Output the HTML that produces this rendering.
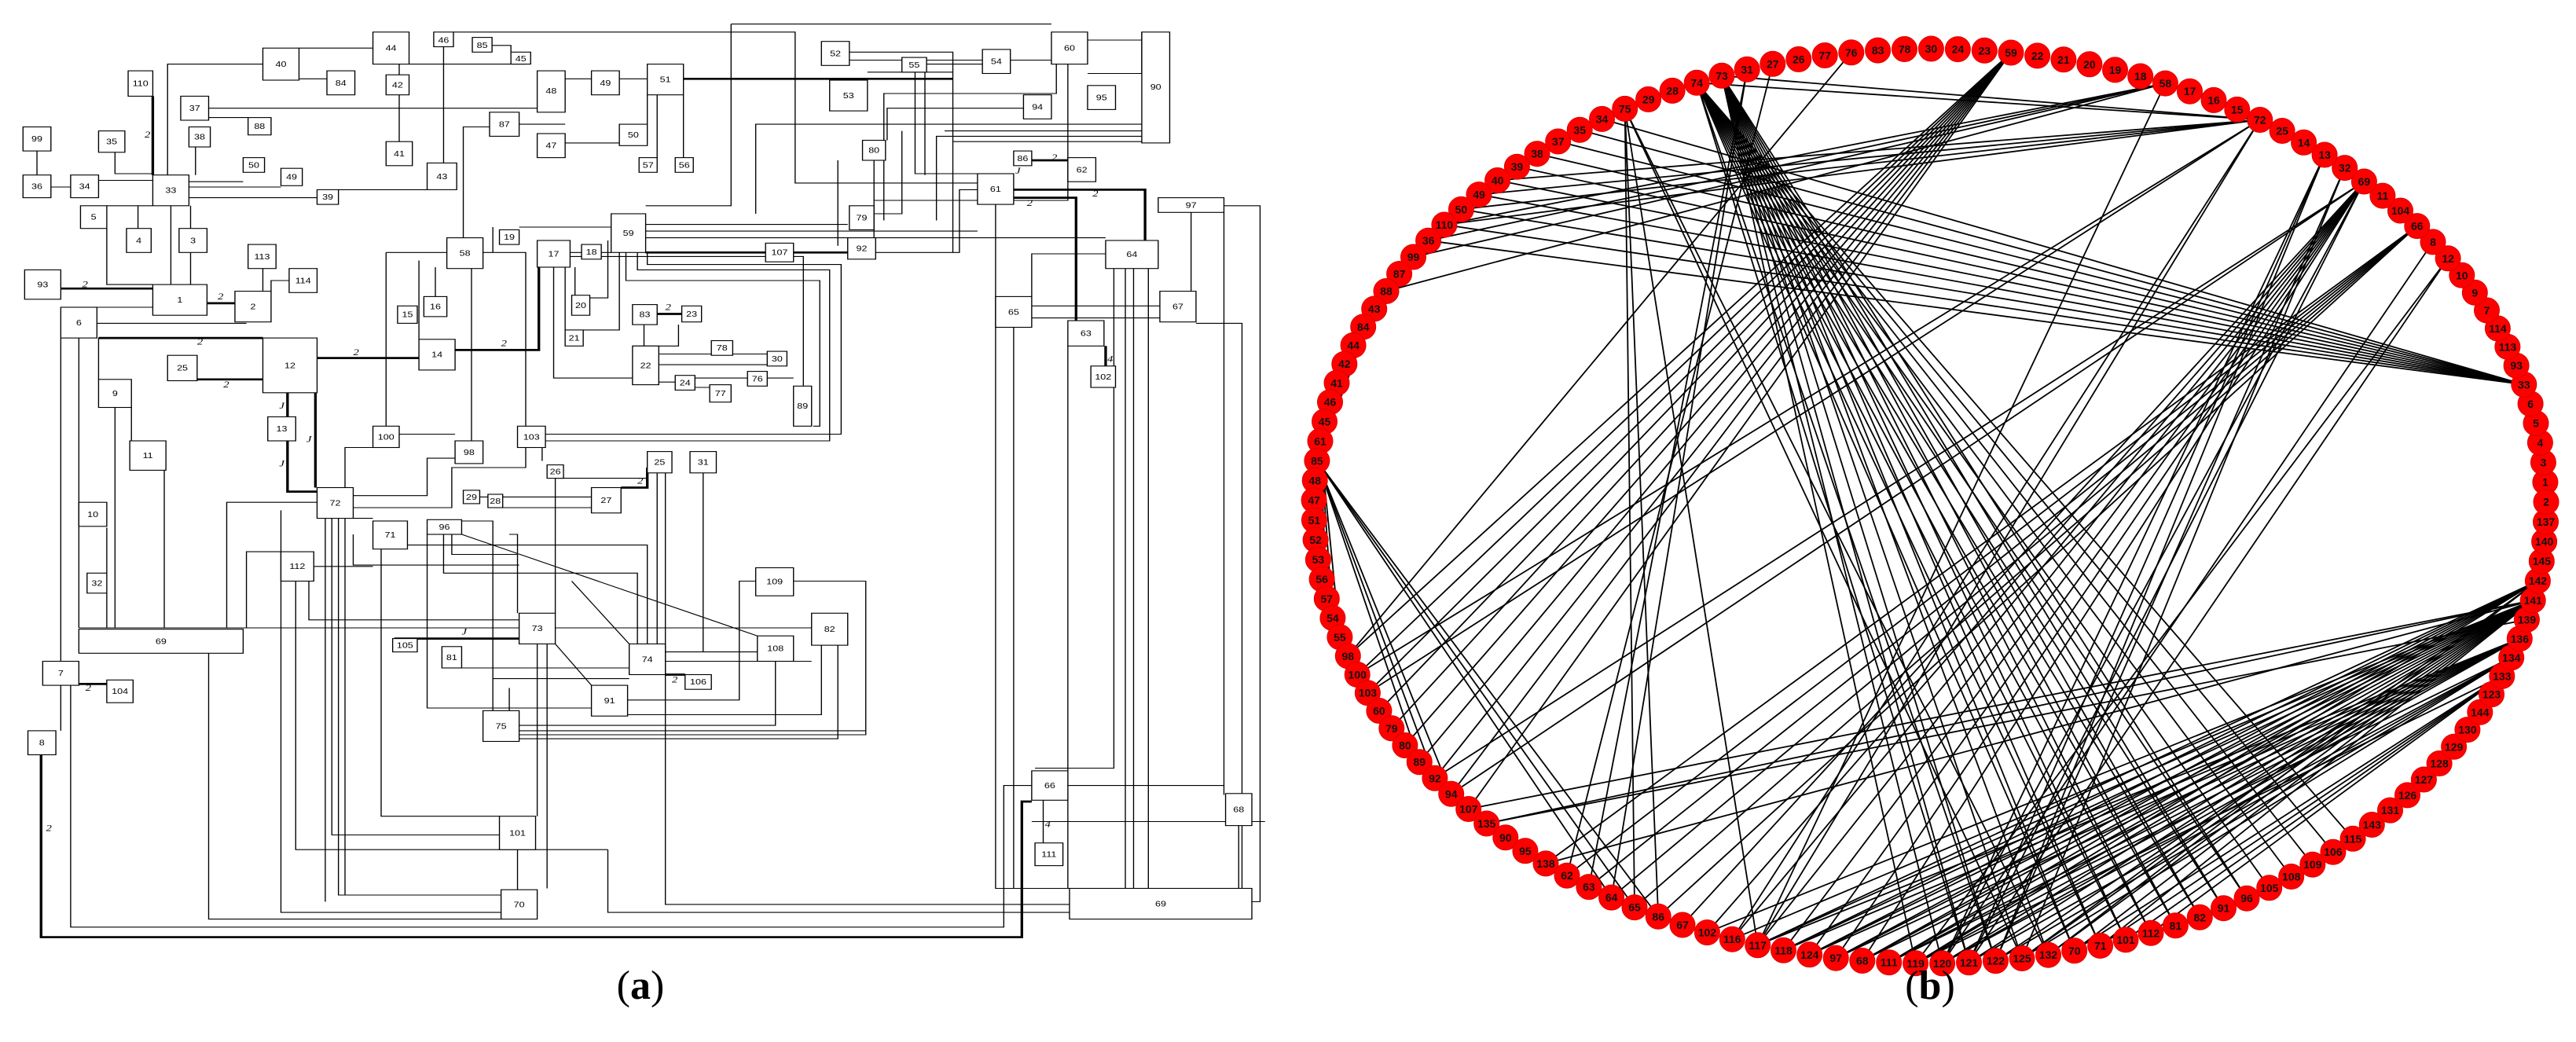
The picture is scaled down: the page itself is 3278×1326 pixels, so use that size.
<!DOCTYPE html>
<html><head><meta charset="utf-8"><style>
html,body{margin:0;padding:0;background:#fff;}
#wrap{position:relative;width:3278px;height:1326px;overflow:hidden;background:#fff;}
svg{position:absolute;top:0;}
.b rect{fill:#fff;stroke:#000;stroke-width:1.3;}
.b text{font-family:"Liberation Sans",sans-serif;font-size:12px;text-anchor:middle;fill:#000;}
.l path{fill:none;stroke:#000;stroke-width:1.3;}
.k path{fill:none;stroke:#000;stroke-width:3.2;}
.lab{font-family:"Liberation Serif",serif;font-style:italic;font-size:14px;fill:#000;}
.n circle{fill:#f00;stroke:#d00;stroke-width:1;}
.n text{font-family:"Liberation Sans",sans-serif;font-size:14px;text-anchor:middle;fill:#111;font-weight:bold;}
</style></head><body><div id="wrap">
<svg width="1639" height="1326" viewBox="0 0 1568 1560" preserveAspectRatio="none" style="left:0">
<g class="l">
<path d="M364,72H454M320,96H204V262M364,118H398M486,96V112M486,142V212M498,96H640M552,48H968V274H1190M599,68H622V78M540,70V244M688,118H720M754,118H788M832,142V236M800,142V236M788,142V186M688,214H754M632,186H688M596,190H564V356M254,162H654M254,176H302M238,220V262M140,228V260H186M230,272H296M230,280H342M230,296H386M412,284H520M208,308V426M232,308V342M232,378V426M45,226V262M62,280H86M120,270H186M130,342V426H186M130,308H186M168,342V308M320,402V436M352,420H330V436M74,460H186M118,484H300M96,506V940M74,506V990M120,506V568M140,610V940M160,610V660M200,704V940M130,790V858M130,888V940M96,940H990M254,978V1376H610M74,1026V1094M86,1026V1388H1222V1176H1256M470,378H544M470,378V638M510,390V508M530,400V444M574,402V660M588,378H640V638M744,340H632M600,340V378H588M786,336H1032M786,346H1190M786,356H1346M694,378H708M732,378H744M674,400V566H770M688,400V494M700,400V442M718,446H740V360M710,494H754V378M762,378V420H998V638H990M776,378V404H1010V660H660V690M788,378V396H1024V650H640M784,486V518M826,486V518H770M802,530H934M802,546H934M802,572H822M846,566H910M846,580H864M934,566H966M664,384H978V578M454,646H486M486,650H554M470,670H420V730M554,686H520V742H430M640,670V700H550V760H430M396,776V1350M404,776V1250H610M412,776V1340H610M420,776V1340M386,752H276V940M430,776H454M496,816H788V964M342,764V1366H610M342,826H300V940M382,848H454M562,800L922,952M540,800V858H776V964M520,800V1060H720M550,800V830H630V918M632,940H508M676,964L720,1026M696,870L766,964M654,964V1222M666,964V1330M676,918V716H788M800,708V964M856,708V976H810M584,744H720M612,760H720M810,976H922M810,990H988M966,870H1054V1100H632M944,990V1086H632M1020,966V1106H632M764,1048H900V870H920M764,1070H1000V966M632,1094H1054M464,800V1222H608M630,1272V1332M740,1272V1366H1302M810,700V1354H1302M360,870V1272H740M376,870V928H632M430,800V846H632M560,780H600V1064M620,800H630V918M600,1016H766M620,1030V1064M540,1000H766M1212,306V1330H1302M1356,402V1150H1260M1370,402V1330M1380,402V1330M1398,402V1330M1410,380H1256V444M1490,308H1534V1350H1524M1450,318V436M1490,318V1190M1456,484H1512V1330M1412,476H1256M1412,458H1256M1300,518V1330M1270,1198V1262M1300,1176H1490M1508,1236V1330M1234,490V1330M1324,60H1390M1390,186H920V320M1390,196H1150M1390,204H1140V330M1390,212H1160V378M1196,96H1098M1114,108V260H1190M1126,108V262M1034,78H1160V260M1056,108H1160M1246,162H1080V210M1064,240V360M1020,240V368M1300,96V300H1064M1286,96V140H1076V330M1066,378H1168V284H1190M1064,320H1098V196M890,36V308H786M890,36H1280M1256,1230H1540M1244,1212V1330M1224,1176H1256M1034,90H1280M1324,110H1390V48"/>
</g>
<g class="k">
<path d="M50,1130V1403H1244V1200H1256M74,432H186M252,454H286M120,506H320M240,568H320M386,536H510M554,524H656V380M350,588V624M350,660V736H386M384,588V730M832,118H1160M1234,284H1394V360M1234,296H1310V480M786,378H932M966,378H1032M800,470H830M480,956H632M788,700V730H756M810,1010H834M96,1024H130M1256,240H1300M1346,518V548M186,144V262"/>
</g>
<g class="b">
<rect x="320" y="72" width="44" height="48"/><text x="342" y="100">40</text>
<rect x="454" y="48" width="44" height="48"/><text x="476" y="76">44</text>
<rect x="528" y="48" width="24" height="22"/><text x="540" y="64">46</text>
<rect x="575" y="56" width="24" height="22"/><text x="587" y="72">85</text>
<rect x="622" y="78" width="24" height="18"/><text x="634" y="92">45</text>
<rect x="156" y="106" width="30" height="38"/><text x="171" y="129">110</text>
<rect x="398" y="106" width="34" height="36"/><text x="415" y="128">84</text>
<rect x="470" y="112" width="28" height="30"/><text x="484" y="131">42</text>
<rect x="654" y="106" width="34" height="62"/><text x="671" y="140">48</text>
<rect x="720" y="106" width="34" height="36"/><text x="737" y="128">49</text>
<rect x="788" y="96" width="44" height="46"/><text x="810" y="123">51</text>
<rect x="1000" y="62" width="34" height="36"/><text x="1017" y="84">52</text>
<rect x="1098" y="86" width="30" height="22"/><text x="1113" y="101">55</text>
<rect x="1196" y="74" width="34" height="36"/><text x="1213" y="96">54</text>
<rect x="1280" y="48" width="44" height="48"/><text x="1302" y="76">60</text>
<rect x="1390" y="48" width="34" height="166"/><text x="1407" y="134">90</text>
<rect x="1010" y="120" width="46" height="46"/><text x="1033" y="147">53</text>
<rect x="1324" y="128" width="34" height="36"/><text x="1341" y="150">95</text>
<rect x="220" y="144" width="34" height="36"/><text x="237" y="166">37</text>
<rect x="302" y="176" width="28" height="26"/><text x="316" y="193">88</text>
<rect x="596" y="168" width="36" height="36"/><text x="614" y="190">87</text>
<rect x="1246" y="142" width="34" height="36"/><text x="1263" y="164">94</text>
<rect x="28" y="190" width="34" height="36"/><text x="45" y="212">99</text>
<rect x="120" y="196" width="32" height="32"/><text x="136" y="216">35</text>
<rect x="230" y="190" width="26" height="30"/><text x="243" y="209">38</text>
<rect x="654" y="200" width="34" height="36"/><text x="671" y="222">47</text>
<rect x="754" y="186" width="34" height="32"/><text x="771" y="206">50</text>
<rect x="470" y="212" width="32" height="36"/><text x="486" y="234">41</text>
<rect x="1050" y="210" width="28" height="30"/><text x="1064" y="229">80</text>
<rect x="1234" y="226" width="22" height="22"/><text x="1245" y="241">86</text>
<rect x="1300" y="236" width="34" height="36"/><text x="1317" y="258">62</text>
<rect x="28" y="262" width="34" height="34"/><text x="45" y="283">36</text>
<rect x="86" y="262" width="34" height="34"/><text x="103" y="283">34</text>
<rect x="186" y="262" width="44" height="46"/><text x="208" y="289">33</text>
<rect x="296" y="236" width="26" height="22"/><text x="309" y="251">50</text>
<rect x="342" y="252" width="26" height="26"/><text x="355" y="269">49</text>
<rect x="520" y="244" width="36" height="40"/><text x="538" y="268">43</text>
<rect x="778" y="236" width="22" height="22"/><text x="789" y="251">57</text>
<rect x="822" y="236" width="22" height="22"/><text x="833" y="251">56</text>
<rect x="386" y="284" width="26" height="22"/><text x="399" y="299">39</text>
<rect x="1190" y="260" width="44" height="46"/><text x="1212" y="287">61</text>
<rect x="98" y="308" width="32" height="34"/><text x="114" y="329">5</text>
<rect x="1410" y="296" width="80" height="22"/><text x="1450" y="311">97</text>
<rect x="1034" y="308" width="30" height="36"/><text x="1049" y="330">79</text>
<rect x="744" y="320" width="42" height="58"/><text x="765" y="353">59</text>
<rect x="608" y="344" width="24" height="22"/><text x="620" y="359">19</text>
<rect x="154" y="342" width="30" height="36"/><text x="169" y="364">4</text>
<rect x="218" y="342" width="34" height="36"/><text x="235" y="364">3</text>
<rect x="544" y="356" width="44" height="46"/><text x="566" y="383">58</text>
<rect x="654" y="360" width="40" height="40"/><text x="674" y="384">17</text>
<rect x="708" y="366" width="24" height="22"/><text x="720" y="381">18</text>
<rect x="932" y="364" width="34" height="28"/><text x="949" y="382">107</text>
<rect x="1032" y="356" width="34" height="32"/><text x="1049" y="376">92</text>
<rect x="1346" y="360" width="64" height="42"/><text x="1378" y="385">64</text>
<rect x="302" y="366" width="34" height="36"/><text x="319" y="388">113</text>
<rect x="30" y="404" width="44" height="44"/><text x="52" y="430">93</text>
<rect x="352" y="402" width="34" height="36"/><text x="369" y="424">114</text>
<rect x="186" y="426" width="66" height="46"/><text x="219" y="453">1</text>
<rect x="286" y="436" width="44" height="46"/><text x="308" y="463">2</text>
<rect x="484" y="458" width="24" height="26"/><text x="496" y="475">15</text>
<rect x="516" y="444" width="28" height="30"/><text x="530" y="463">16</text>
<rect x="696" y="442" width="22" height="30"/><text x="707" y="461">20</text>
<rect x="770" y="456" width="30" height="30"/><text x="785" y="475">83</text>
<rect x="830" y="458" width="24" height="24"/><text x="842" y="474">23</text>
<rect x="74" y="460" width="44" height="46"/><text x="96" y="487">6</text>
<rect x="1212" y="444" width="44" height="46"/><text x="1234" y="471">65</text>
<rect x="1412" y="436" width="44" height="46"/><text x="1434" y="463">67</text>
<rect x="1300" y="480" width="44" height="38"/><text x="1322" y="503">63</text>
<rect x="688" y="494" width="22" height="24"/><text x="699" y="510">21</text>
<rect x="866" y="510" width="26" height="22"/><text x="879" y="525">78</text>
<rect x="510" y="508" width="44" height="46"/><text x="532" y="535">14</text>
<rect x="320" y="506" width="66" height="82"/><text x="353" y="551">12</text>
<rect x="934" y="526" width="24" height="22"/><text x="946" y="541">30</text>
<rect x="204" y="532" width="36" height="38"/><text x="222" y="555">25</text>
<rect x="770" y="518" width="32" height="58"/><text x="786" y="551">22</text>
<rect x="910" y="556" width="24" height="22"/><text x="922" y="571">76</text>
<rect x="822" y="562" width="24" height="22"/><text x="834" y="577">24</text>
<rect x="1328" y="548" width="30" height="32"/><text x="1343" y="568">102</text>
<rect x="864" y="576" width="26" height="26"/><text x="877" y="593">77</text>
<rect x="120" y="568" width="40" height="42"/><text x="140" y="593">9</text>
<rect x="966" y="578" width="22" height="60"/><text x="977" y="612">89</text>
<rect x="326" y="624" width="34" height="36"/><text x="343" y="646">13</text>
<rect x="454" y="638" width="32" height="32"/><text x="470" y="658">100</text>
<rect x="630" y="638" width="34" height="32"/><text x="647" y="658">103</text>
<rect x="158" y="660" width="44" height="44"/><text x="180" y="686">11</text>
<rect x="554" y="660" width="34" height="34"/><text x="571" y="681">98</text>
<rect x="788" y="676" width="30" height="32"/><text x="803" y="696">25</text>
<rect x="840" y="676" width="32" height="32"/><text x="856" y="696">31</text>
<rect x="666" y="696" width="20" height="20"/><text x="676" y="710">26</text>
<rect x="386" y="730" width="44" height="46"/><text x="408" y="757">72</text>
<rect x="564" y="734" width="20" height="20"/><text x="574" y="748">29</text>
<rect x="594" y="740" width="18" height="20"/><text x="603" y="754">28</text>
<rect x="720" y="730" width="36" height="38"/><text x="738" y="753">27</text>
<rect x="96" y="752" width="34" height="36"/><text x="113" y="774">10</text>
<rect x="454" y="780" width="42" height="42"/><text x="475" y="805">71</text>
<rect x="520" y="778" width="42" height="22"/><text x="541" y="793">96</text>
<rect x="342" y="826" width="40" height="44"/><text x="362" y="852">112</text>
<rect x="106" y="858" width="24" height="30"/><text x="118" y="877">32</text>
<rect x="920" y="850" width="46" height="42"/><text x="943" y="875">109</text>
<rect x="632" y="918" width="44" height="46"/><text x="654" y="945">73</text>
<rect x="988" y="918" width="44" height="48"/><text x="1010" y="946">82</text>
<rect x="96" y="942" width="200" height="36"/><text x="196" y="964">69</text>
<rect x="922" y="952" width="44" height="38"/><text x="944" y="975">108</text>
<rect x="478" y="956" width="30" height="20"/><text x="493" y="970">105</text>
<rect x="538" y="968" width="24" height="32"/><text x="550" y="988">81</text>
<rect x="766" y="964" width="44" height="46"/><text x="788" y="991">74</text>
<rect x="52" y="990" width="44" height="36"/><text x="74" y="1012">7</text>
<rect x="834" y="1010" width="32" height="22"/><text x="850" y="1025">106</text>
<rect x="130" y="1018" width="32" height="34"/><text x="146" y="1039">104</text>
<rect x="720" y="1026" width="44" height="46"/><text x="742" y="1053">91</text>
<rect x="588" y="1064" width="44" height="46"/><text x="610" y="1091">75</text>
<rect x="34" y="1094" width="34" height="36"/><text x="51" y="1116">8</text>
<rect x="1256" y="1154" width="44" height="44"/><text x="1278" y="1180">66</text>
<rect x="1492" y="1188" width="32" height="48"/><text x="1508" y="1216">68</text>
<rect x="1260" y="1262" width="34" height="34"/><text x="1277" y="1283">111</text>
<rect x="608" y="1222" width="44" height="50"/><text x="630" y="1251">101</text>
<rect x="610" y="1332" width="44" height="44"/><text x="632" y="1358">70</text>
<rect x="1302" y="1330" width="222" height="46"/><text x="1413" y="1357">69</text>
</g>
<g class="lab">
<text x="265" y="448">2</text><text x="100" y="430">2</text><text x="240" y="516">2</text><text x="272" y="580">2</text><text x="430" y="532">2</text><text x="610" y="518">2</text><text x="340" y="612">J</text><text x="373" y="662">J</text><text x="340" y="698">J</text><text x="810" y="464">2</text><text x="1280" y="240">2</text><text x="1330" y="294">2</text><text x="1250" y="308">2</text><text x="1236" y="260">J</text><text x="1348" y="542">4</text><text x="1272" y="1238">4</text><text x="818" y="1022">2</text><text x="104" y="1034">2</text><text x="56" y="1244">2</text><text x="562" y="950">J</text><text x="776" y="724">2</text><text x="176" y="206">2</text>
</g>
</svg>
<svg width="1639" height="1326" style="left:1639px">
<g id="edges" stroke="#000" stroke-width="1.8"></g>
<g id="nodes" class="n">
<g><circle r="16"/><text>1</text></g><g><circle r="16"/><text>3</text></g><g><circle r="16"/><text>4</text></g><g><circle r="16"/><text>5</text></g><g><circle r="16"/><text>6</text></g><g><circle r="16"/><text>33</text></g><g><circle r="16"/><text>93</text></g><g><circle r="16"/><text>113</text></g><g><circle r="16"/><text>114</text></g><g><circle r="16"/><text>7</text></g><g><circle r="16"/><text>9</text></g><g><circle r="16"/><text>10</text></g><g><circle r="16"/><text>12</text></g><g><circle r="16"/><text>8</text></g><g><circle r="16"/><text>66</text></g><g><circle r="16"/><text>104</text></g><g><circle r="16"/><text>11</text></g><g><circle r="16"/><text>69</text></g><g><circle r="16"/><text>32</text></g><g><circle r="16"/><text>13</text></g><g><circle r="16"/><text>14</text></g><g><circle r="16"/><text>25</text></g><g><circle r="16"/><text>72</text></g><g><circle r="16"/><text>15</text></g><g><circle r="16"/><text>16</text></g><g><circle r="16"/><text>17</text></g><g><circle r="16"/><text>58</text></g><g><circle r="16"/><text>18</text></g><g><circle r="16"/><text>19</text></g><g><circle r="16"/><text>20</text></g><g><circle r="16"/><text>21</text></g><g><circle r="16"/><text>22</text></g><g><circle r="16"/><text>59</text></g><g><circle r="16"/><text>23</text></g><g><circle r="16"/><text>24</text></g><g><circle r="16"/><text>30</text></g><g><circle r="16"/><text>78</text></g><g><circle r="16"/><text>83</text></g><g><circle r="16"/><text>76</text></g><g><circle r="16"/><text>77</text></g><g><circle r="16"/><text>26</text></g><g><circle r="16"/><text>27</text></g><g><circle r="16"/><text>31</text></g><g><circle r="16"/><text>73</text></g><g><circle r="16"/><text>74</text></g><g><circle r="16"/><text>28</text></g><g><circle r="16"/><text>29</text></g><g><circle r="16"/><text>75</text></g><g><circle r="16"/><text>34</text></g><g><circle r="16"/><text>35</text></g><g><circle r="16"/><text>37</text></g><g><circle r="16"/><text>38</text></g><g><circle r="16"/><text>39</text></g><g><circle r="16"/><text>40</text></g><g><circle r="16"/><text>49</text></g><g><circle r="16"/><text>50</text></g><g><circle r="16"/><text>110</text></g><g><circle r="16"/><text>36</text></g><g><circle r="16"/><text>99</text></g><g><circle r="16"/><text>87</text></g><g><circle r="16"/><text>88</text></g><g><circle r="16"/><text>43</text></g><g><circle r="16"/><text>84</text></g><g><circle r="16"/><text>44</text></g><g><circle r="16"/><text>42</text></g><g><circle r="16"/><text>41</text></g><g><circle r="16"/><text>46</text></g><g><circle r="16"/><text>45</text></g><g><circle r="16"/><text>61</text></g><g><circle r="16"/><text>85</text></g><g><circle r="16"/><text>48</text></g><g><circle r="16"/><text>47</text></g><g><circle r="16"/><text>51</text></g><g><circle r="16"/><text>52</text></g><g><circle r="16"/><text>53</text></g><g><circle r="16"/><text>56</text></g><g><circle r="16"/><text>57</text></g><g><circle r="16"/><text>54</text></g><g><circle r="16"/><text>55</text></g><g><circle r="16"/><text>98</text></g><g><circle r="16"/><text>100</text></g><g><circle r="16"/><text>103</text></g><g><circle r="16"/><text>60</text></g><g><circle r="16"/><text>79</text></g><g><circle r="16"/><text>80</text></g><g><circle r="16"/><text>89</text></g><g><circle r="16"/><text>92</text></g><g><circle r="16"/><text>94</text></g><g><circle r="16"/><text>107</text></g><g><circle r="16"/><text>135</text></g><g><circle r="16"/><text>90</text></g><g><circle r="16"/><text>95</text></g><g><circle r="16"/><text>138</text></g><g><circle r="16"/><text>62</text></g><g><circle r="16"/><text>63</text></g><g><circle r="16"/><text>64</text></g><g><circle r="16"/><text>65</text></g><g><circle r="16"/><text>86</text></g><g><circle r="16"/><text>67</text></g><g><circle r="16"/><text>102</text></g><g><circle r="16"/><text>116</text></g><g><circle r="16"/><text>117</text></g><g><circle r="16"/><text>118</text></g><g><circle r="16"/><text>124</text></g><g><circle r="16"/><text>97</text></g><g><circle r="16"/><text>68</text></g><g><circle r="16"/><text>111</text></g><g><circle r="16"/><text>119</text></g><g><circle r="16"/><text>120</text></g><g><circle r="16"/><text>121</text></g><g><circle r="16"/><text>122</text></g><g><circle r="16"/><text>125</text></g><g><circle r="16"/><text>132</text></g><g><circle r="16"/><text>70</text></g><g><circle r="16"/><text>71</text></g><g><circle r="16"/><text>101</text></g><g><circle r="16"/><text>112</text></g><g><circle r="16"/><text>81</text></g><g><circle r="16"/><text>82</text></g><g><circle r="16"/><text>91</text></g><g><circle r="16"/><text>96</text></g><g><circle r="16"/><text>105</text></g><g><circle r="16"/><text>108</text></g><g><circle r="16"/><text>109</text></g><g><circle r="16"/><text>106</text></g><g><circle r="16"/><text>115</text></g><g><circle r="16"/><text>143</text></g><g><circle r="16"/><text>131</text></g><g><circle r="16"/><text>126</text></g><g><circle r="16"/><text>127</text></g><g><circle r="16"/><text>128</text></g><g><circle r="16"/><text>129</text></g><g><circle r="16"/><text>130</text></g><g><circle r="16"/><text>144</text></g><g><circle r="16"/><text>123</text></g><g><circle r="16"/><text>133</text></g><g><circle r="16"/><text>134</text></g><g><circle r="16"/><text>136</text></g><g><circle r="16"/><text>139</text></g><g><circle r="16"/><text>141</text></g><g><circle r="16"/><text>142</text></g><g><circle r="16"/><text>145</text></g><g><circle r="16"/><text>140</text></g><g><circle r="16"/><text>137</text></g><g><circle r="16"/><text>2</text></g>
</g>
</svg>
<div style="position:absolute;left:0;top:1225px;width:1630px;font-family:'Liberation Serif',serif;font-size:52px;text-align:center;">(<b>a</b>)</div>
<div style="position:absolute;left:1639px;top:1225px;width:1634px;font-family:'Liberation Serif',serif;font-size:52px;text-align:center;">(<b>b</b>)</div>
</div>
<script>
(function(){
var cx=817,cy=644,rx=784,ry=582,N=145;
var gs=document.getElementById('nodes').children;
var pos={};
for(var i=0;i<gs.length;i++){
 var a=(-3-i*360/N)*Math.PI/180;
 var x=cx+rx*Math.cos(a),y=cy+ry*Math.sin(a);
 gs[i].setAttribute('transform','translate('+x.toFixed(1)+','+y.toFixed(1)+')');
 var t=gs[i].querySelector('text');t.setAttribute('y','5');
 pos[t.textContent]=[x,y];
}
var E={
'33':'34 35 37 38 39 40 49 50 110 36',
'74':'106 108 109 96 91 82 81 112 101 71 70 105 115 121 122',
'73':'121 122 125 132 70 71 101 112 81 82 91 96 120 119',
'75':'65 86 132 125 117',
'59':'98 100 103 60 79 80 89 92 94 107',
'72':'50 49 40 73 74 110 100 103 116 117',
'69':'67 102 116 117 118 124 97 68 120 121 92 94',
'66':'64 63 62 138 65 86',
'85':'89 92 94 64 65 86 41 42 43',
'141':'102 116 117 118 124 97 68 111 119 120 121 122 125 132 70 71 107 135 138',
'142':'97 68 111 119 124 118 117 125 132',
'136':'97 68 111 119 124 118 117 120',
'134':'120 121 122 125 111',
'133':'70 71 101 112 119',
'58':'36 99 88 110 117',
'13':'121 120 122',
'32':'122 125',
'12':'121 119',
'8':'120',
'135':'139',
'31':'63 64',
'27':'62',
'76':'98',
'61':'57 56 54 55'
};
var g=document.getElementById('edges'),s='';
for(var k in E){var ls=E[k].split(' ');for(var j=0;j<ls.length;j++){var p=pos[k],q=pos[ls[j]];if(!p||!q)continue;
s+='<line x1="'+p[0].toFixed(1)+'" y1="'+p[1].toFixed(1)+'" x2="'+q[0].toFixed(1)+'" y2="'+q[1].toFixed(1)+'"/>';}}
g.innerHTML=s;
})();
</script>
</body></html>
